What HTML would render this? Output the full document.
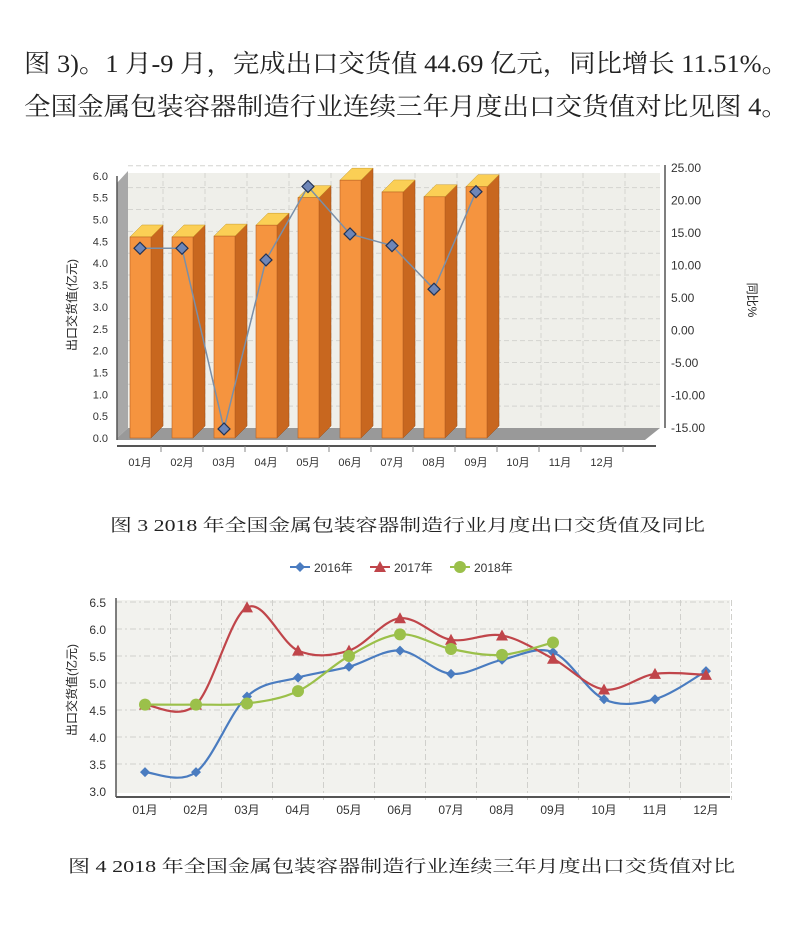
<!DOCTYPE html>
<html><head><meta charset="utf-8"><style>
html,body{margin:0;padding:0;background:#fff;}
svg{display:block;}
.serif{font-family:"Liberation Serif","Noto Serif CJK SC",serif;}
.sans{font-family:"Liberation Sans","Noto Sans CJK SC",sans-serif;}
</style></head><body>
<svg id="page" width="800" height="938" viewBox="0 0 800 938" xmlns="http://www.w3.org/2000/svg">
<text class="serif" x="24" y="72" font-size="25" fill="#222" textLength="764" lengthAdjust="spacingAndGlyphs">图 3)。1 月-9 月，完成出口交货值 44.69 亿元，同比增长 11.51%。</text>
<text class="serif" x="24" y="115" font-size="25" fill="#222" textLength="764" lengthAdjust="spacingAndGlyphs">全国金属包装容器制造行业连续三年月度出口交货值对比见图 4。</text>
<g id="c1"></g>
<text class="serif" x="110" y="531" font-size="17" fill="#222" textLength="595" lengthAdjust="spacingAndGlyphs">图 3   2018 年全国金属包装容器制造行业月度出口交货值及同比</text>
<g id="c2"></g>
<text class="serif" x="68" y="872" font-size="17" fill="#222" textLength="667" lengthAdjust="spacingAndGlyphs">图 4   2018 年全国金属包装容器制造行业连续三年月度出口交货值对比</text>
</svg>
<script>
const months = ["01月","02月","03月","04月","05月","06月","07月","08月","09月","10月","11月","12月"];
const exportValues2018 = [4.6,4.6,4.62,4.87,5.5,5.9,5.63,5.52,5.75];
const yoyPercent2018 = [12.5,12.5,-15.3,10.7,22.0,14.7,12.9,6.2,21.2];
const leftTicks = ["0.0","0.5","1.0","1.5","2.0","2.5","3.0","3.5","4.0","4.5","5.0","5.5","6.0"];
const rightTicks = ["-15.00","-10.00","-5.00","0.00","5.00","10.00","15.00","20.00","25.00"];
const series2016 = [3.35,3.35,4.75,5.1,5.3,5.6,5.17,5.43,5.57,4.7,4.7,5.22];
const series2017 = [4.6,4.6,6.4,5.6,5.6,6.2,5.8,5.88,5.45,4.88,5.17,5.15];
const series2018 = [4.6,4.6,4.62,4.85,5.5,5.9,5.63,5.52,5.75];
const ticks2 = ["3.0","3.5","4.0","4.5","5.0","5.5","6.0","6.5"];

const NS="http://www.w3.org/2000/svg";
function mk(p,tag,a,txt){const e=document.createElementNS(NS,tag);for(const k in a)e.setAttribute(k,a[k]);if(txt!=null)e.textContent=txt;p.appendChild(e);return e;}

// ---------- Chart 1 ----------
const c1=document.getElementById('c1');
const y1=v=>438-v*43.7;
const yR=v=>427-(v+15)*6.5;
const x1=i=>140+i*42;
const D=12;
// back wall
let e=mk(c1,'polygon',{points:"128,173 660,173 660,428 128,438",fill:"#efefea"});


// left side wall
e=mk(c1,'polygon',{points:"117,183 128,171 128,428 117,438",fill:"#a8a8a8"});


// grid
for(let i=1;i<leftTicks.length;i++){const g=mk(c1,'line',{x1:128,x2:660,y1:y1(i*0.5)-10,y2:y1(i*0.5)-10,stroke:"#d4d4d0","stroke-dasharray":"5,3"});

}
for(let i=0;i<12;i++){const g=mk(c1,'line',{x1:x1(i)+23,x2:x1(i)+23,y1:173,y2:428,stroke:"#d4d4d0","stroke-dasharray":"5,3"});

}
// floor
e=mk(c1,'polygon',{points:"117,438 128,428 660,428 645,440 117,440",fill:"#999"});


// axes
e=mk(c1,'line',{x1:117,x2:117,y1:176,y2:440,stroke:"#555","stroke-width":1.5});


e=mk(c1,'line',{x1:117,x2:656,y1:446,y2:446,stroke:"#555","stroke-width":2});


e=mk(c1,'line',{x1:665,x2:665,y1:165,y2:428,stroke:"#555","stroke-width":1.5});


leftTicks.forEach((t,i)=>{const v=parseFloat(t);const tx=mk(c1,'text',{x:108,y:y1(v)+4,"font-size":11,"text-anchor":"end",fill:"#333",class:"sans"},t);

});
rightTicks.forEach(t=>{const v=parseFloat(t);const tx=mk(c1,'text',{x:671,y:yR(v)+5,"font-size":12,fill:"#333",class:"sans"},t);

});
months.forEach((m,i)=>{const tx=mk(c1,'text',{x:x1(i),y:466,"font-size":11,"text-anchor":"middle",fill:"#333",class:"sans"},m);


const tk=mk(c1,'line',{x1:x1(i)+21,x2:x1(i)+21,y1:446,y2:452,stroke:"#888"});

});
let t=mk(c1,'text',{x:0,y:0,"font-size":12,"text-anchor":"middle",fill:"#222",class:"sans",transform:"translate(76,305) rotate(-90)"},"出口交货值(亿元)");


t=mk(c1,'text',{x:0,y:0,"font-size":12,"text-anchor":"middle",fill:"#222",class:"sans",transform:"translate(748,300) rotate(90)"},"同比%");


// bars
exportValues2018.forEach((v,i)=>{
 const L=x1(i)-10,R=x1(i)+11,T=y1(v),B=438;
 const g=mk(c1,'g',{});
 
 
 mk(g,'polygon',{points:`${R},${T} ${R+D},${T-D} ${R+D},${B-D} ${R},${B}`,fill:"#c8671f",stroke:"#9a4e16","stroke-width":0.5});
 mk(g,'polygon',{points:`${L},${T} ${L+D},${T-D} ${R+D},${T-D} ${R},${T}`,fill:"#fbcf55",stroke:"#c79a2a","stroke-width":0.5});
 mk(g,'rect',{x:L,y:T,width:R-L,height:B-T,fill:"#f5943f",stroke:"#b96020","stroke-width":0.6});
});
// yoy line
const pts=yoyPercent2018.map((v,i)=>[x1(i),yR(v)]);
e=mk(c1,'polyline',{points:pts.map(p=>p.join(',')).join(' '),fill:"none",stroke:"#7a8fa8","stroke-width":1.5});


pts.forEach(p=>{const d=mk(c1,'polygon',{points:`${p[0]},${p[1]-6} ${p[0]+6},${p[1]} ${p[0]},${p[1]+6} ${p[0]-6},${p[1]}`,fill:"#6e86b8",stroke:"#223355","stroke-width":1.2});

});

// ---------- Chart 2 ----------
const c2=document.getElementById('c2');
const x2=i=>145+i*51;
const y2=v=>791-(v-3)*54;
e=mk(c2,'rect',{x:116,y:600,width:614,height:193,fill:"#f2f2ee"});


ticks2.forEach(tk=>{const v=parseFloat(tk);
 if(v>3){const g=mk(c2,'line',{x1:116,x2:730,y1:y2(v),y2:y2(v),stroke:"#d0d0cc","stroke-dasharray":"6,3,2,3"});
 
 }
 const tx=mk(c2,'text',{x:106,y:y2(v)+5,"font-size":12,"text-anchor":"end",fill:"#333",class:"sans"},tk);
 
 });
months.forEach((m,i)=>{const xb=x2(i)+25.5;
 const g=mk(c2,'line',{x1:xb,x2:xb,y1:600,y2:800,stroke:"#d0d0cc","stroke-dasharray":"6,3,2,3"});
 
 
 const tx=mk(c2,'text',{x:x2(i),y:814,"font-size":12,"text-anchor":"middle",fill:"#333",class:"sans"},m);
 
 });
e=mk(c2,'line',{x1:116,x2:116,y1:598,y2:797,stroke:"#555","stroke-width":1.5});


e=mk(c2,'line',{x1:116,x2:730,y1:797,y2:797,stroke:"#555","stroke-width":2});


t=mk(c2,'text',{x:0,y:0,"font-size":12,"text-anchor":"middle",fill:"#222",class:"sans",transform:"translate(76,690) rotate(-90)"},"出口交货值(亿元)");


function smooth(p){let d=`M${p[0][0]},${p[0][1]}`;for(let i=0;i<p.length-1;i++){const a=p[i-1]||p[i],b=p[i],c=p[i+1],n=p[i+2]||c;
 d+=` C${b[0]+(c[0]-a[0])/6},${b[1]+(c[1]-a[1])/6} ${c[0]-(n[0]-b[0])/6},${c[1]-(n[1]-b[1])/6} ${c[0]},${c[1]}`;}return d;}
function marker(p,type,col){let m;
 if(type==='d')m=mk(c2,'polygon',{points:`${p[0]},${p[1]-5} ${p[0]+5},${p[1]} ${p[0]},${p[1]+5} ${p[0]-5},${p[1]}`,fill:col});
 else if(type==='t')m=mk(c2,'polygon',{points:`${p[0]},${p[1]-6} ${p[0]+6},${p[1]+5} ${p[0]-6},${p[1]+5}`,fill:col});
 else m=mk(c2,'circle',{cx:p[0],cy:p[1],r:6,fill:col});
 return m;}
const defs=[[series2016,"#4a7cc0",'d','series-2016'],[series2017,"#c0454a",'t','series-2017'],[series2018,"#9bc04a",'c','series-2018']];
defs.forEach(([s,col,type,name])=>{
 const p=s.map((v,i)=>[x2(i),y2(v)]);
 const l=mk(c2,'path',{d:smooth(p),fill:"none",stroke:col,"stroke-width":2.2});
 
 
 p.forEach(q=>{const m=marker(q,type,col);
 
 });
});
// legend
const leg=[["2016年","#4a7cc0",'d',290],["2017年","#c0454a",'t',370],["2018年","#9bc04a",'c',450]];
leg.forEach(([lab,col,type,x])=>{
 const g=mk(c2,'line',{x1:x,x2:x+20,y1:567,y2:567,stroke:col,"stroke-width":2});
 
 
 const m=marker([x+10,567],type,col);
 
 
 const tx=mk(c2,'text',{x:x+24,y:572,"font-size":12,fill:"#333",class:"sans"},lab);
 
 
});
</script>
</body></html>
